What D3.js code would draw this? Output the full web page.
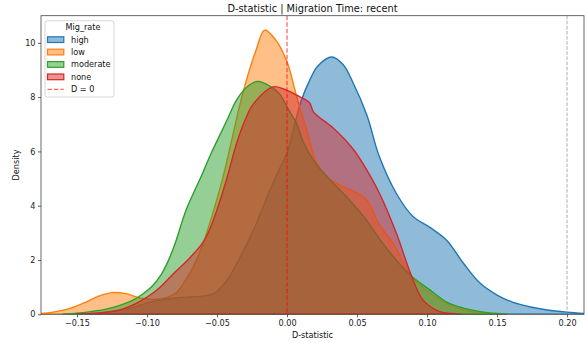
<!DOCTYPE html>
<html>
<head>
<meta charset="utf-8">
<script src="https://cdn.jsdelivr.net/npm/d3@7"></script>
<style>
  body { margin: 0; background: #fff; }
  svg { display: block; font-family: "DejaVu Sans", sans-serif; }
</style>
</head>
<body>
<svg id="chart" width="587" height="343"></svg>
<script>
// Kernel density estimates of the D-statistic per migration rate, as [D, density] knots
const seriesNames = ["high", "low", "moderate", "none"];
const seriesColors = ["#1f77b4", "#ff7f0e", "#2ca02c", "#d62728"];

const highDensity = [
  [-0.140, 0.02], [-0.130, 0.08], [-0.120, 0.15], [-0.110, 0.25], [-0.100, 0.42],
  [-0.090, 0.53], [-0.080, 0.60], [-0.070, 0.64], [-0.060, 0.67], [-0.053, 0.75],
  [-0.047, 1.00], [-0.041, 1.40], [-0.034, 2.05], [-0.024, 3.10], [-0.012, 4.60],
  [-0.005, 5.40], [0.000, 5.95], [0.005, 6.90], [0.010, 7.85], [0.016, 8.60],
  [0.022, 9.15], [0.032, 9.48], [0.040, 9.20], [0.047, 8.55], [0.057, 7.34],
  [0.066, 5.80], [0.078, 4.46], [0.090, 3.60], [0.102, 3.20], [0.114, 2.73],
  [0.126, 1.88], [0.138, 1.14], [0.150, 0.71], [0.161, 0.45], [0.174, 0.27],
  [0.186, 0.16], [0.200, 0.08], [0.2121, 0.03]
];

const lowDensity = [
  [-0.1757, 0.03], [-0.165, 0.10], [-0.155, 0.22], [-0.145, 0.42], [-0.135, 0.66],
  [-0.125, 0.80], [-0.115, 0.76], [-0.105, 0.60], [-0.095, 0.55], [-0.087, 0.60],
  [-0.079, 0.80], [-0.072, 1.30], [-0.065, 1.95], [-0.058, 2.90], [-0.052, 3.90],
  [-0.046, 5.00], [-0.040, 6.30], [-0.034, 7.65], [-0.028, 8.80], [-0.022, 9.75],
  [-0.016, 10.47], [-0.008, 10.10], [0.000, 9.30], [0.007, 8.00], [0.014, 6.80],
  [0.021, 5.60], [0.030, 5.00], [0.040, 4.70], [0.047, 4.55], [0.057, 4.20],
  [0.066, 3.30], [0.076, 2.60], [0.089, 1.40], [0.102, 0.78], [0.114, 0.40],
  [0.126, 0.16], [0.140, 0.05], [0.157, 0.00]
];

const moderateDensity = [
  [-0.160, 0.01], [-0.150, 0.04], [-0.140, 0.10], [-0.130, 0.18], [-0.120, 0.32],
  [-0.110, 0.52], [-0.103, 0.75], [-0.096, 1.05], [-0.090, 1.45], [-0.085, 1.95],
  [-0.080, 2.60], [-0.072, 3.85], [-0.062, 5.00], [-0.054, 5.95], [-0.048, 6.60],
  [-0.042, 7.25], [-0.036, 7.90], [-0.028, 8.40], [-0.021, 8.58], [-0.012, 8.40],
  [-0.005, 8.10], [0.000, 7.64], [0.007, 7.00], [0.012, 6.30], [0.020, 5.60],
  [0.031, 4.94], [0.043, 4.30], [0.057, 3.45], [0.066, 2.78], [0.078, 2.00],
  [0.089, 1.40], [0.102, 0.90], [0.114, 0.45], [0.126, 0.23], [0.138, 0.10],
  [0.150, 0.03], [0.157, 0.01]
];

const noneDensity = [
  [-0.150, 0.01], [-0.140, 0.03], [-0.130, 0.07], [-0.120, 0.15], [-0.112, 0.30],
  [-0.105, 0.48], [-0.098, 0.70], [-0.091, 0.98], [-0.081, 1.50], [-0.070, 2.05],
  [-0.060, 2.65], [-0.055, 3.15], [-0.050, 3.85], [-0.043, 5.00], [-0.036, 6.30],
  [-0.030, 7.15], [-0.024, 7.75], [-0.010, 8.38], [0.000, 8.25], [0.007, 8.07],
  [0.016, 7.80], [0.019, 7.45], [0.033, 6.86], [0.047, 6.10], [0.054, 5.57],
  [0.066, 4.46], [0.078, 3.00], [0.089, 1.40], [0.097, 0.53], [0.109, 0.10],
  [0.118, 0.03], [0.125, 0.00]
];

const xDomain = [-0.1757, 0.2121];
const yDomain = [0, 11];
const xTicks = [-0.15, -0.10, -0.05, 0.00, 0.05, 0.10, 0.15, 0.20];
const yTicks = [0, 2, 4, 6, 8, 10];
const zeroLine = 0;
const referenceLine = 0.20;

const titleText = "D-statistic | Migration Time: recent";
const xLabel = "D-statistic";
const yLabel = "Density";
const legendTitle = "Mig_rate";
const zeroLabel = "D = 0";

const seriesData = [highDensity, lowDensity, moderateDensity, noneDensity];

const plot = { left: 41, right: 584, top: 15.7, bottom: 314.3 };
const svg = d3.select("#chart");

const x = d3.scaleLinear().domain(xDomain).range([plot.left, plot.right]);
const y = d3.scaleLinear().domain(yDomain).range([plot.bottom, plot.top]);

svg.append("defs").append("clipPath").attr("id", "plot-clip")
  .append("rect")
  .attr("x", plot.left).attr("y", plot.top)
  .attr("width", plot.right - plot.left).attr("height", plot.bottom - plot.top);

const marks = svg.append("g").attr("clip-path", "url(#plot-clip)");

const area = d3.area()
  .x(d => x(d[0]))
  .y0(y(0))
  .y1(d => Math.min(y(d[1]), y(0)))
  .curve(d3.curveCatmullRom.alpha(0.5));

// Filled densities, drawn in legend order so later levels sit on top
seriesData.forEach((data, i) => {
  marks.append("path")
    .attr("d", area(data))
    .attr("fill", seriesColors[i])
    .attr("fill-opacity", 0.5)
    .attr("stroke", seriesColors[i])
    .attr("stroke-width", 1.4)
    .attr("stroke-linejoin", "round");
});

// Reference lines
marks.append("line")
  .attr("x1", x(zeroLine)).attr("x2", x(zeroLine))
  .attr("y1", plot.top).attr("y2", plot.bottom)
  .attr("stroke", "#ff0000").attr("stroke-opacity", 0.6)
  .attr("stroke-width", 1.3).attr("stroke-dasharray", "4.5,2");

marks.append("line")
  .attr("x1", x(referenceLine)).attr("x2", x(referenceLine))
  .attr("y1", plot.top).attr("y2", plot.bottom)
  .attr("stroke", "#808080").attr("stroke-opacity", 0.7)
  .attr("stroke-width", 0.9).attr("stroke-dasharray", "3.5,1.6");

// Axes
const fmtX = d => d3.format(".2f")(d).replace("-", "\u2212");
const xAxis = svg.append("g")
  .attr("transform", `translate(0,${plot.bottom})`)
  .call(d3.axisBottom(x).tickValues(xTicks).tickFormat(fmtX).tickSize(3).tickSizeOuter(0));
const yAxis = svg.append("g")
  .attr("transform", `translate(${plot.left},0)`)
  .call(d3.axisLeft(y).tickValues(yTicks).tickFormat(d3.format("d")).tickSize(3).tickSizeOuter(0));

[xAxis, yAxis].forEach(g => {
  g.select(".domain").remove();
  g.selectAll(".tick line").attr("stroke", "#333").attr("stroke-width", 0.8);
  g.selectAll(".tick text")
    .attr("fill", "#222")
    .style("font-size", "8.15px")
    .style("font-family", "'DejaVu Sans', sans-serif");
});
xAxis.selectAll(".tick text").attr("dy", "0.71em").attr("y", 5.5);
yAxis.selectAll(".tick text").attr("x", -5.5);

// Frame
svg.append("rect")
  .attr("x", plot.left).attr("y", plot.top)
  .attr("width", plot.right - plot.left).attr("height", plot.bottom - plot.top)
  .attr("fill", "none").attr("stroke", "#444").attr("stroke-width", 0.8);

// Titles
svg.append("text")
  .attr("x", (plot.left + plot.right) / 2).attr("y", 11.5)
  .attr("text-anchor", "middle")
  .style("font-size", "9.8px").attr("fill", "#111")
  .text(titleText);

svg.append("text")
  .attr("x", (plot.left + plot.right) / 2).attr("y", 338)
  .attr("text-anchor", "middle")
  .style("font-size", "8.15px").attr("fill", "#111")
  .text(xLabel);

svg.append("text")
  .attr("transform", `translate(19,${(plot.top + plot.bottom) / 2}) rotate(-90)`)
  .attr("text-anchor", "middle")
  .style("font-size", "8.15px").attr("fill", "#111")
  .text(yLabel);

// Legend
const legend = svg.append("g").attr("transform", "translate(45,20.7)");
legend.append("rect")
  .attr("width", 69).attr("height", 76.3).attr("rx", 2.5)
  .attr("fill", "#fff").attr("fill-opacity", 0.8)
  .attr("stroke", "#ccc").attr("stroke-width", 0.8);
legend.append("text")
  .attr("x", 38).attr("y", 9.5)
  .attr("text-anchor", "middle")
  .style("font-size", "8.15px").attr("fill", "#111")
  .text(legendTitle);

const rowY = i => 19 + i * 12.4;
seriesNames.forEach((name, i) => {
  legend.append("rect")
    .attr("x", 2.5).attr("y", rowY(i) - 2.9)
    .attr("width", 16.3).attr("height", 5.7)
    .attr("fill", seriesColors[i]).attr("fill-opacity", 0.5)
    .attr("stroke", seriesColors[i]).attr("stroke-width", 1.2);
  legend.append("text")
    .attr("x", 26).attr("y", rowY(i)).attr("dy", "0.35em")
    .style("font-size", "8.15px").attr("fill", "#111")
    .text(name);
});
legend.append("line")
  .attr("x1", 2.5).attr("x2", 18.8)
  .attr("y1", rowY(4)).attr("y2", rowY(4))
  .attr("stroke", "#ff0000").attr("stroke-opacity", 0.6)
  .attr("stroke-width", 1.3).attr("stroke-dasharray", "4.5,2");
legend.append("text")
  .attr("x", 26).attr("y", rowY(4)).attr("dy", "0.35em")
  .style("font-size", "8.15px").attr("fill", "#111")
  .text(zeroLabel);
</script>
</body>
</html>
